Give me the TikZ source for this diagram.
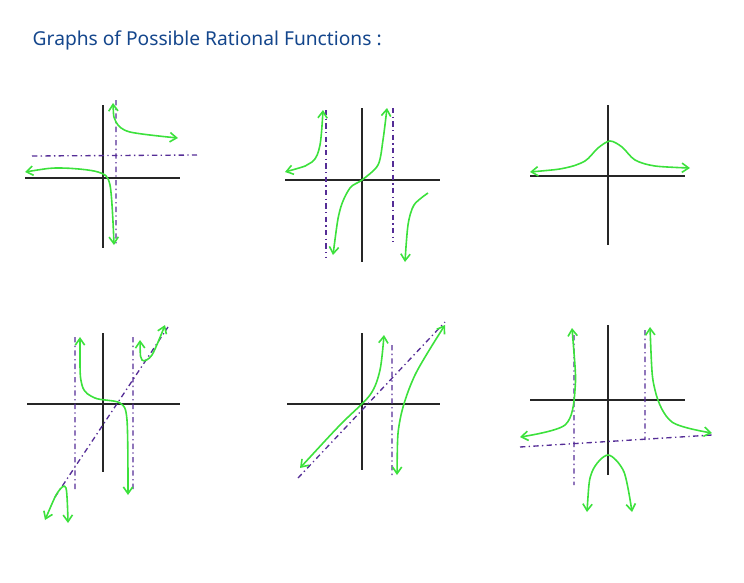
\documentclass[tikz,border=0pt]{standalone}
\usepackage{fontspec}
\setmainfont{Noto Sans}
\usetikzlibrary{arrows.meta}
\definecolor{curvegreen}{RGB}{60,225,60}
\definecolor{asympurple}{RGB}{85,45,150}
\definecolor{titleblue}{RGB}{20,70,140}
\tikzset{axis/.style={line width=1pt,black!85},
  asym/.style={asympurple,line width=1pt,dash pattern=on 4pt off 2.5pt on 1pt off 2.5pt},
  graph/.style={curvegreen,line width=1.2pt,smooth},
  tip/.style={arrows={-Straight Barb[length=5pt,width=7pt]}},
  tips/.style={arrows={Straight Barb[length=5pt,width=7pt]-Straight Barb[length=5pt,width=7pt]}}}
\begin{document}
\begin{tikzpicture}[x=0.75pt,y=-0.75pt]
\useasboundingbox (0,0) rectangle (744,583);
\node[titleblue,anchor=west,font=\Large] (title) at (28,40) {Graphs of Possible Rational Functions :};

% top left
\draw[axis] (103,105)--(103,248) (25,178)--(180,178);
\draw[asym] (32,156)--(197,155) (116,100)--(116,245);
\draw[graph,tips] plot coordinates {(113,103) (116,122) (130,132) (178,138)};
\draw[graph,tips] plot coordinates {(25,172) (60,168) (98,172) (110,185) (114,245)};

% top middle
\draw[axis] (362,108)--(362,262) (285,180)--(440,180);
\draw[asym] (326,110)--(326,258) (393,108)--(393,242);
\draw[graph,tips] plot coordinates {(285,172) (312,162) (320,145) (323,110)};
\draw[graph,tips] plot coordinates {(333,255) (340,210) (350,188) (362,180) (378,165) (383,140) (387,108)};
\draw[graph,tip] plot coordinates {(428,193) (414,205) (408,225) (405,262)};

% top right
\draw[axis] (608,105)--(608,245) (530,176)--(685,176);
\draw[graph,tips] plot coordinates {(530,172) (565,168) (585,161) (598,148) (610,141) (622,147) (635,160) (655,166) (690,168)};

% bottom left
\draw[axis] (103,333)--(103,472) (27,404)--(180,404);
\draw[asym] (75,337)--(75,490) (133,337)--(133,492) (55,497)--(168,327);
\draw[graph,tips] plot coordinates {(80,337) (82,385) (95,398) (120,403) (127,420) (128,495)};
\draw[graph,tips] plot coordinates {(45,520) (58,492) (66,488) (68,523)};
\draw[graph,tips] plot coordinates {(140,340) (142,360) (152,355) (165,325)};

% bottom middle
\draw[axis] (362,333)--(362,470) (287,404)--(440,404);
\draw[asym] (298,478)--(445,322) (392,345)--(392,478);
\draw[graph,tips] plot coordinates {(300,468) (340,425) (370,395) (380,370) (384,335)};
\draw[graph,tips] plot coordinates {(397,475) (400,420) (415,375) (445,325)};

% bottom right
\draw[axis] (608,325)--(608,475) (530,400)--(685,400);
\draw[asym] (520,447)--(712,435) (574,335)--(574,485) (645,330)--(645,440);
\draw[graph,tips] plot coordinates {(572,328) (575,390) (565,425) (520,437)};
\draw[graph,tips] plot coordinates {(650,327) (655,390) (672,422) (712,433)};
\draw[graph,tips] plot coordinates {(587,512) (592,472) (608,455) (624,472) (632,512)};
\end{tikzpicture}
\end{document}
